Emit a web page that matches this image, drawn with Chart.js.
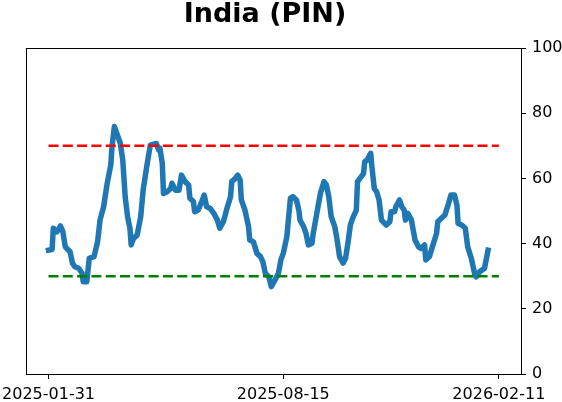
<!DOCTYPE html>
<html>
<head>
<meta charset="utf-8">
<script src="https://cdn.jsdelivr.net/npm/chart.js@4/dist/chart.umd.min.js"></script>
<style>
  html, body { margin: 0; padding: 0; background: #ffffff; }
  #wrap { width: 562px; height: 402px; }
</style>
</head>
<body>
<div id="wrap"><canvas id="c" width="562" height="402"></canvas></div>
<script>
// Days since 2025-01-31 for each observation
const days = [0,3,4,7,10,12,14,18,20,22,25,28,29,32,34,38,41,43,46,49,52,53,55,58,60,62,64,66,68,69,71,74,77,79,82,85,90,92,93,95,96,99,102,103,106,109,111,114,117,118,121,122,125,128,130,132,135,138,141,143,146,149,152,153,156,158,160,161,164,167,168,171,174,177,179,181,184,186,189,192,194,196,199,200,202,204,207,209,210,213,215,217,220,221,223,225,227,230,232,234,236,239,241,243,246,248,250,252,254,257,258,260,263,264,266,269,270,272,274,276,278,282,285,286,289,290,293,295,297,298,300,303,306,309,311,314,315,318,321,324,325,328,331,334,336,339,341,342,345,348,350,353,356,357,360,364,367];
const values = [38.0,38.2,44.7,43.6,45.4,43.6,39.0,37.5,34.0,32.9,32.5,30.9,28.3,28.3,35.5,36.0,40.6,47.2,51.3,58.5,64.1,69.7,75.9,72.8,70.7,65.6,54.4,48.3,44.7,39.6,41.6,42.6,48.3,56.4,63.6,70.2,70.7,68.7,69.3,64.6,55.4,55.9,56.9,58.5,56.4,56.4,61.0,59.0,58.0,53.9,52.9,49.8,50.3,52.9,54.9,51.3,50.8,49.3,47.2,44.7,46.7,50.8,54.4,59.0,60.0,61.0,59.5,53.4,50.3,45.2,41.1,40.6,37.0,36.0,34.4,30.9,29.8,26.8,28.8,30.9,35.0,37.0,42.1,46.2,53.9,54.4,53.4,50.3,47.2,45.2,43.1,39.6,40.1,43.1,47.2,51.3,55.4,59.0,58.0,54.4,48.3,45.2,41.1,36.0,34.0,35.5,40.1,45.7,47.8,50.3,59.0,60.0,61.5,65.1,65.6,67.7,63.6,56.9,55.9,53.4,47.2,45.7,46.7,49.8,49.8,51.3,53.4,51.3,50.3,47.2,49.3,47.2,41.1,39.0,38.5,39.6,35.0,36.0,39.6,43.1,46.7,47.8,48.8,52.3,54.9,54.9,51.8,46.2,45.7,44.7,39.0,35.5,30.4,29.8,31.4,32.4,38.0];
const upperLevel = 70;
const lowerLevel = 30;
const levelSpan = [0, 376];
const xTickDays = [0, 196, 376];
const xTickLabels = ['2025-01-31', '2025-08-15', '2026-02-11'];
const yTicks = [0, 20, 40, 60, 80, 100];
const titleText = 'India (PIN)';

const series = days.map((d, i) => ({ x: d, y: values[i] }));
const upper = levelSpan.map(d => ({ x: d, y: upperLevel }));
const lower = levelSpan.map(d => ({ x: d, y: lowerLevel }));

const FONT = "'DejaVu Sans', sans-serif";

const boxPlugin = {
  id: 'box',
  afterDraw(chart) {
    const { ctx, chartArea: a } = chart;
    ctx.save();
    ctx.strokeStyle = '#000';
    ctx.lineWidth = 1;
    ctx.strokeRect(a.left + 0.5, a.top + 0.5, a.right - a.left, a.bottom - a.top);
    // title
    ctx.fillStyle = '#000';
    ctx.font = "bold 27px " + FONT;
    ctx.textAlign = 'center';
    ctx.textBaseline = 'alphabetic';
    ctx.fillText(titleText, 265, 22);
    ctx.restore();
  }
};

Chart.defaults.font.family = FONT;
Chart.defaults.color = '#000';

new Chart(document.getElementById('c'), {
  type: 'line',
  data: {
    datasets: [
      { data: upper, borderColor: '#ff0000', borderWidth: 2.6, borderDash: [10, 4.3], pointRadius: 0, order: 0 },
      { data: lower, borderColor: '#008000', borderWidth: 2.6, borderDash: [10, 4.3], pointRadius: 0, order: 0 },
      { data: series, borderColor: '#1f77b4', borderWidth: 5.5, pointRadius: 0, tension: 0,
        borderJoinStyle: 'round', borderCapStyle: 'square', order: 1 }
    ]
  },
  options: {
    responsive: false,
    animation: false,
    events: [],
    layout: { padding: { left: 26, right: 0, top: 48, bottom: 0 } },
    plugins: {
      legend: { display: false },
      tooltip: { enabled: false },
      title: { display: false }
    },
    scales: {
      x: {
        type: 'linear',
        min: -18.8,
        max: 394.5,
        grid: { display: true, drawOnChartArea: false, drawTicks: true, tickLength: 5, color: '#000', tickColor: '#000' },
        border: { display: true, color: '#000', width: 1 },
        afterBuildTicks(scale) { scale.ticks = xTickDays.map(v => ({ value: v })); },
        afterFit(scale) { scale.height = 28; scale.paddingLeft = 0; scale.paddingRight = 0; },
        ticks: {
          autoSkip: false, maxRotation: 0, minRotation: 0, padding: 6,
          font: { family: FONT, size: 16 }, color: '#000',
          callback(v) { const i = xTickDays.indexOf(v); return i >= 0 ? xTickLabels[i] : ''; }
        }
      },
      y: {
        position: 'right',
        min: 0,
        max: 100,
        grid: { display: true, drawOnChartArea: false, drawTicks: true, tickLength: 5, color: '#000', tickColor: '#000' },
        border: { display: true, color: '#000', width: 1 },
        afterBuildTicks(scale) { scale.ticks = yTicks.map(v => ({ value: v })); },
        afterFit(scale) { scale.width = 41; scale.paddingTop = 0; scale.paddingBottom = 0; },
        ticks: { padding: 6, font: { family: FONT, size: 16 }, color: '#000' }
      }
    }
  },
  plugins: [boxPlugin]
});
</script>
</body>
</html>
